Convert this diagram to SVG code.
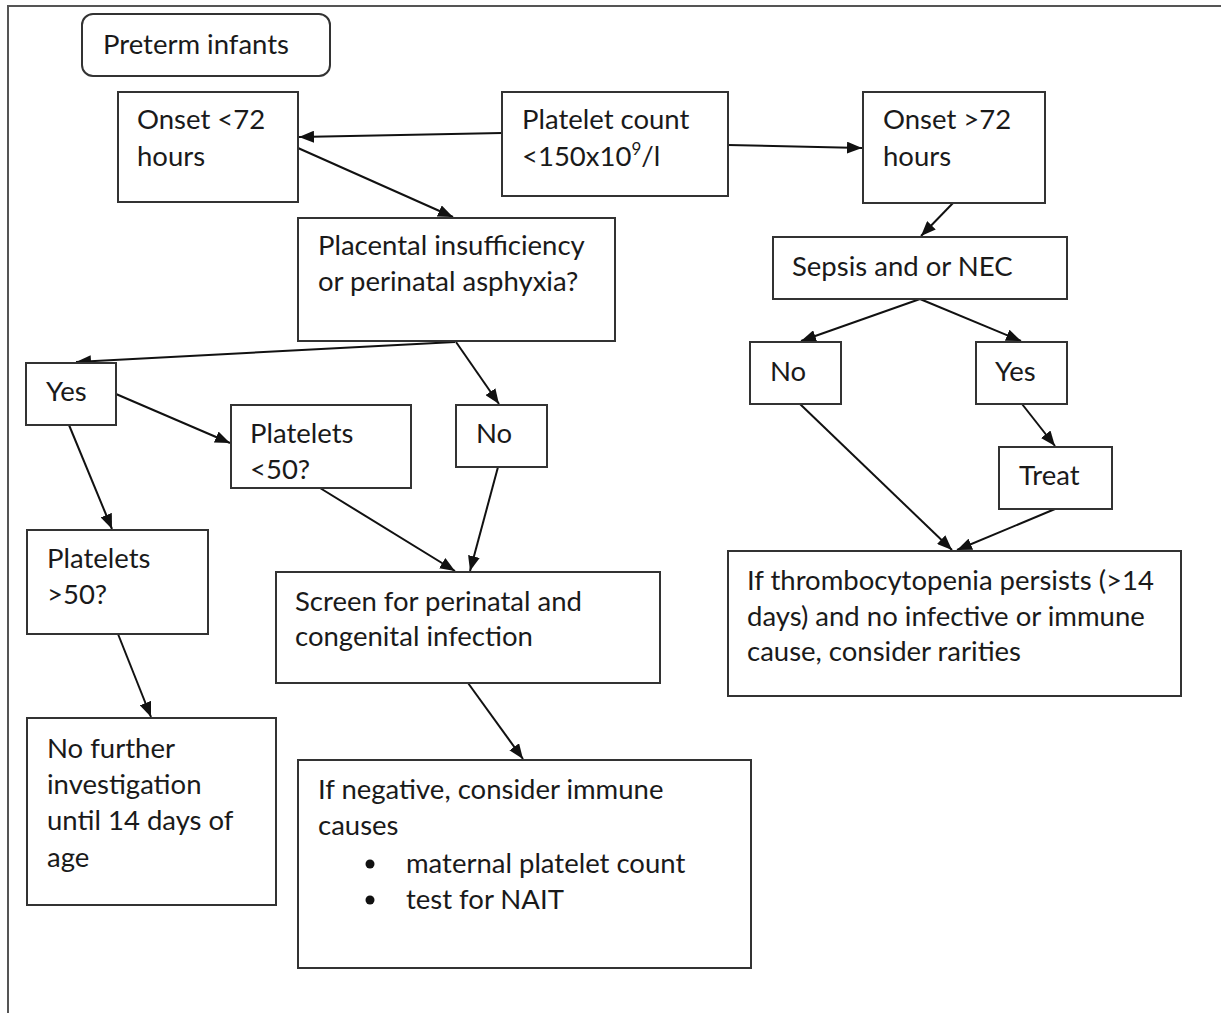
<svg xmlns="http://www.w3.org/2000/svg" width="1221" height="1013" viewBox="0 0 1221 1013">
<defs>
<marker id="ah" viewBox="0 0 15 12" refX="15" refY="6" markerWidth="15" markerHeight="12" markerUnits="userSpaceOnUse" orient="auto">
<path d="M0,0 L15,6 L0,12 Z" fill="#111"/>
</marker>
<style>
.box{fill:#fff;stroke:#333;stroke-width:2}
.t{font-family:Lato,"Open Sans",sans-serif;font-size:27.5px;fill:#1a1a1a}
.c{fill:none;stroke:#111;stroke-width:2;marker-end:url(#ah)}
</style>
</defs>
<rect width="1221" height="1013" fill="#fff"/>
<path d="M8,1013 L8,6 L1221,6" fill="none" stroke="#555" stroke-width="2"/>

<g id="connectors">
<line class="c" x1="502" y1="133" x2="299" y2="137"/>
<line class="c" x1="728" y1="145" x2="862" y2="148"/>
<line class="c" x1="298" y1="148" x2="453" y2="217"/>
<line class="c" x1="953" y1="203" x2="921" y2="236"/>
<line class="c" x1="455" y1="342" x2="76" y2="362"/>
<line class="c" x1="456" y1="342" x2="499" y2="404"/>
<line class="c" x1="116" y1="394" x2="230" y2="443"/>
<line class="c" x1="69" y1="425" x2="112" y2="529"/>
<line class="c" x1="320" y1="488" x2="455" y2="571"/>
<line class="c" x1="498" y1="467" x2="470" y2="571"/>
<line class="c" x1="118" y1="634" x2="151" y2="717"/>
<line class="c" x1="468" y1="683" x2="523" y2="759"/>
<line class="c" x1="920" y1="299" x2="801" y2="341"/>
<line class="c" x1="920" y1="299" x2="1021" y2="341"/>
<line class="c" x1="1022" y1="404" x2="1055" y2="446"/>
<line class="c" x1="800" y1="404" x2="952" y2="550"/>
<line class="c" x1="1055" y1="509" x2="957" y2="550"/>
</g>

<g id="preterm">
<rect class="box" x="82" y="14" width="248" height="62" rx="11"/>
<text class="t" x="103" y="54">Preterm infants</text>
</g>
<g id="onset-lt">
<rect class="box" x="118" y="92" width="180" height="110"/>
<text class="t" x="137" y="129">Onset &lt;72</text>
<text class="t" x="137" y="166">hours</text>
</g>
<g id="platelet-count">
<rect class="box" x="502" y="92" width="226" height="104"/>
<text class="t" x="522" y="129">Platelet count</text>
<text class="t" x="522" y="166">&lt;150x10<tspan font-size="17" dy="-11">9</tspan><tspan dy="11">/l</tspan></text>
</g>
<g id="onset-gt">
<rect class="box" x="863" y="92" width="182" height="111"/>
<text class="t" x="883" y="129">Onset &gt;72</text>
<text class="t" x="883" y="166">hours</text>
</g>
<g id="placental">
<rect class="box" x="298" y="218" width="317" height="123"/>
<text class="t" x="318" y="255">Placental insufficiency</text>
<text class="t" x="318" y="291">or perinatal asphyxia?</text>
</g>
<g id="sepsis">
<rect class="box" x="773" y="237" width="294" height="62"/>
<text class="t" x="792" y="276">Sepsis and or NEC</text>
</g>
<g id="yes-left">
<rect class="box" x="26" y="363" width="90" height="62"/>
<text class="t" x="46" y="401">Yes</text>
</g>
<g id="platelets-lt50">
<rect class="box" x="231" y="405" width="180" height="83"/>
<text class="t" x="250" y="443">Platelets</text>
<text class="t" x="250" y="479">&lt;50?</text>
</g>
<g id="no-left">
<rect class="box" x="456" y="405" width="91" height="62"/>
<text class="t" x="476" y="443">No</text>
</g>
<g id="no-right">
<rect class="box" x="750" y="342" width="91" height="62"/>
<text class="t" x="770" y="381">No</text>
</g>
<g id="yes-right">
<rect class="box" x="976" y="342" width="91" height="62"/>
<text class="t" x="995" y="381">Yes</text>
</g>
<g id="treat">
<rect class="box" x="999" y="447" width="113" height="62"/>
<text class="t" x="1019" y="485">Treat</text>
</g>
<g id="platelets-gt50">
<rect class="box" x="27" y="530" width="181" height="104"/>
<text class="t" x="47" y="568">Platelets</text>
<text class="t" x="47" y="604">&gt;50?</text>
</g>
<g id="screen">
<rect class="box" x="276" y="572" width="384" height="111"/>
<text class="t" x="295" y="611">Screen for perinatal and</text>
<text class="t" x="295" y="646">congenital infection</text>
</g>
<g id="rarities">
<rect class="box" x="728" y="551" width="453" height="145"/>
<text class="t" x="747" y="590">If thrombocytopenia persists (&gt;14</text>
<text class="t" x="747" y="626">days) and no infective or immune</text>
<text class="t" x="747" y="661">cause, consider rarities</text>
</g>
<g id="no-further">
<rect class="box" x="27" y="718" width="249" height="187"/>
<text class="t" x="47" y="758">No further</text>
<text class="t" x="47" y="794">investigation</text>
<text class="t" x="47" y="830">until 14 days of</text>
<text class="t" x="47" y="867">age</text>
</g>
<g id="immune">
<rect class="box" x="298" y="760" width="453" height="208"/>
<text class="t" x="318" y="799">If negative, consider immune</text>
<text class="t" x="318" y="835">causes</text>
<circle cx="370" cy="864" r="4.5" fill="#111"/>
<text class="t" x="406" y="873">maternal platelet count</text>
<circle cx="370" cy="900" r="4.5" fill="#111"/>
<text class="t" x="406" y="909">test for NAIT</text>
</g>
</svg>
